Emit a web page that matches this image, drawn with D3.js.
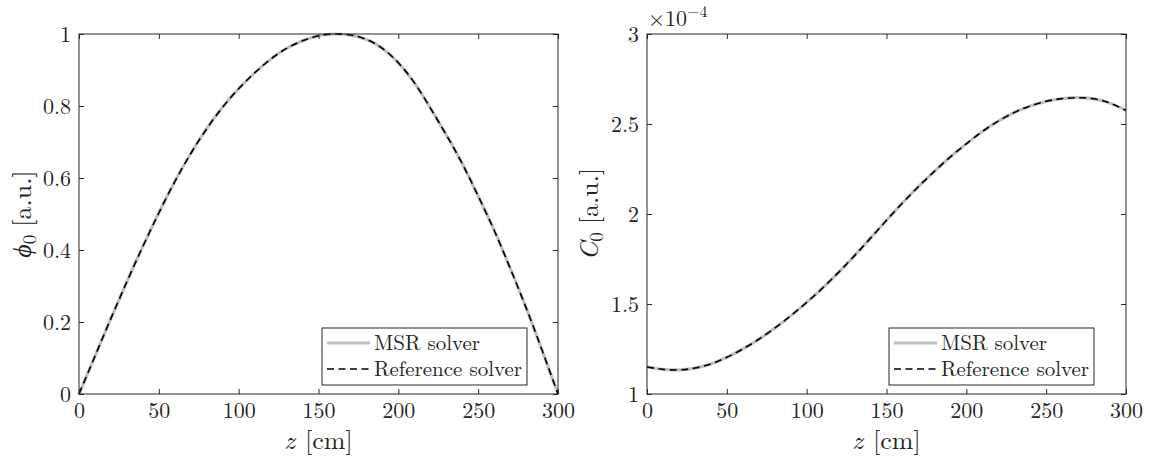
<!DOCTYPE html>
<html>
<head>
<meta charset="utf-8">
<script src="https://cdn.jsdelivr.net/npm/d3@7"></script>
</head>
<body style="margin:0;background:#fff">
<div id="chart"></div>
<script>
// axial positions (cm)
const zValues = d3.range(0, 301, 10);

// fundamental flux, same for both solvers
const phi0 = [0, 0.105, 0.21, 0.312, 0.41, 0.503, 0.59, 0.668, 0.737, 0.797, 0.848,
  0.892, 0.93, 0.96, 0.981, 0.995, 1.0, 0.997, 0.985, 0.96, 0.92,
  0.865, 0.795, 0.72, 0.64, 0.55, 0.455, 0.35, 0.24, 0.122, 0];

// precursor concentration (x 1e-4)
const c0 = [1.150, 1.137, 1.134, 1.144, 1.167, 1.204, 1.250, 1.304, 1.366, 1.434, 1.509,
  1.589, 1.676, 1.769, 1.866, 1.965, 2.061, 2.152, 2.237, 2.317, 2.390,
  2.458, 2.516, 2.564, 2.600, 2.626, 2.641, 2.646, 2.640, 2.616, 2.575];

const xTicks = [0, 50, 100, 150, 200, 250, 300];
const phiTicks = [0, 0.2, 0.4, 0.6, 0.8, 1];
const cTicks = [1, 1.5, 2, 2.5, 3];
const legendNames = ["MSR solver", "Reference solver"];

const FONT = '"Latin Modern Roman", "Liberation Serif", serif';
const INK = "#262626";
const W = 1150, H = 461;
const svg = d3.select("#chart").append("svg")
  .attr("width", W).attr("height", H)
  .style("font-family", FONT);

function txt(sel, size) {
  return sel.style("font-family", FONT).style("font-size", size + "px").attr("fill", INK);
}

function drawPanel(opt) {
  const x = d3.scaleLinear().domain([0, 300]).range([opt.left, opt.right]);
  const y = d3.scaleLinear().domain(opt.yDomain).range([394, 34]);
  const g = svg.append("g");

  const pts = zValues.map((z, i) => ({ z, v: opt.values[i] }));
  const line = d3.line().x(d => x(d.z)).y(d => y(d.v)).curve(d3.curveNatural);

  g.append("path").attr("d", line(pts))
    .attr("fill", "none").attr("stroke", "#c0c0c0").attr("stroke-width", 3.2);
  g.append("path").attr("d", line(pts))
    .attr("fill", "none").attr("stroke", "#000").attr("stroke-width", 1.6)
    .attr("stroke-dasharray", "7,4.5");

  // box and inward ticks
  const axisStyle = sel => {
    sel.attr("font-family", null).attr("font-size", null);
    sel.select(".domain").remove();
    sel.selectAll("line").attr("stroke", INK);
    txt(sel.selectAll("text"), 22);
  };
  g.append("g").attr("transform", "translate(0,394)")
    .call(d3.axisBottom(x).tickValues(xTicks).tickSize(-5).tickPadding(8).tickFormat(d3.format("d")))
    .call(axisStyle);
  g.append("g").attr("transform", "translate(0,34)")
    .call(d3.axisTop(x).tickValues(xTicks).tickSize(-5).tickFormat(""))
    .call(axisStyle);
  g.append("g").attr("transform", `translate(${opt.left},0)`)
    .call(d3.axisLeft(y).tickValues(opt.yTicks).tickSize(-5).tickPadding(8).tickFormat(d => d3.format("")(d)))
    .call(axisStyle);
  g.append("g").attr("transform", `translate(${opt.right},0)`)
    .call(d3.axisRight(y).tickValues(opt.yTicks).tickSize(-5).tickFormat(""))
    .call(axisStyle);
  g.append("rect").attr("x", opt.left).attr("y", 34)
    .attr("width", opt.right - opt.left).attr("height", 360)
    .attr("fill", "none").attr("stroke", INK).attr("stroke-width", 1);

  // x label
  const xl = txt(g.append("text"), 26).attr("x", (opt.left + opt.right) / 2).attr("y", 449)
    .attr("text-anchor", "middle");
  xl.append("tspan").style("font-style", "italic").text("z");
  xl.append("tspan").attr("dx", 10).text("[cm]");

  // y label
  const yl = txt(g.append("text"), 26)
    .attr("transform", `translate(${opt.ylx},214) rotate(-90)`)
    .attr("text-anchor", "middle");
  yl.append("tspan").style("font-style", "italic").text(opt.sym);
  yl.append("tspan").attr("dy", 5).style("font-size", "19px").text("0");
  yl.append("tspan").attr("dy", -5).attr("dx", 8).text("[a.u.]");

  // legend
  const lx = opt.legX, ly = 328;
  const leg = g.append("g");
  leg.append("rect").attr("x", lx).attr("y", ly).attr("width", 205).attr("height", 57)
    .attr("fill", "#fff").attr("stroke", INK).attr("stroke-width", 1);
  legendNames.forEach((name, i) => {
    const yy = ly + 15 + i * 26;
    leg.append("line").attr("x1", lx + 5).attr("x2", lx + 48).attr("y1", yy).attr("y2", yy)
      .attr("stroke", i === 0 ? "#c0c0c0" : "#000")
      .attr("stroke-width", i === 0 ? 3.2 : 1.6)
      .attr("stroke-dasharray", i === 0 ? null : "7,4.5");
    txt(leg.append("text"), 21).attr("x", lx + 52).attr("y", yy + 7).text(name);
  });
  return g;
}

drawPanel({ left: 79, right: 558, yDomain: [0, 1], yTicks: phiTicks, values: phi0,
  sym: "\u03d5", ylx: 31, legX: 322 });
const right = drawPanel({ left: 647, right: 1126, yDomain: [1, 3], yTicks: cTicks, values: c0,
  sym: "C", ylx: 598, legX: 889 });

// exponent marker
const ex = txt(right.append("text"), 22).attr("x", 648).attr("y", 26);
ex.append("tspan").text("\u00d710");
ex.append("tspan").attr("dy", -9).style("font-size", "16px").text("\u22124");
</script>
</body>
</html>
